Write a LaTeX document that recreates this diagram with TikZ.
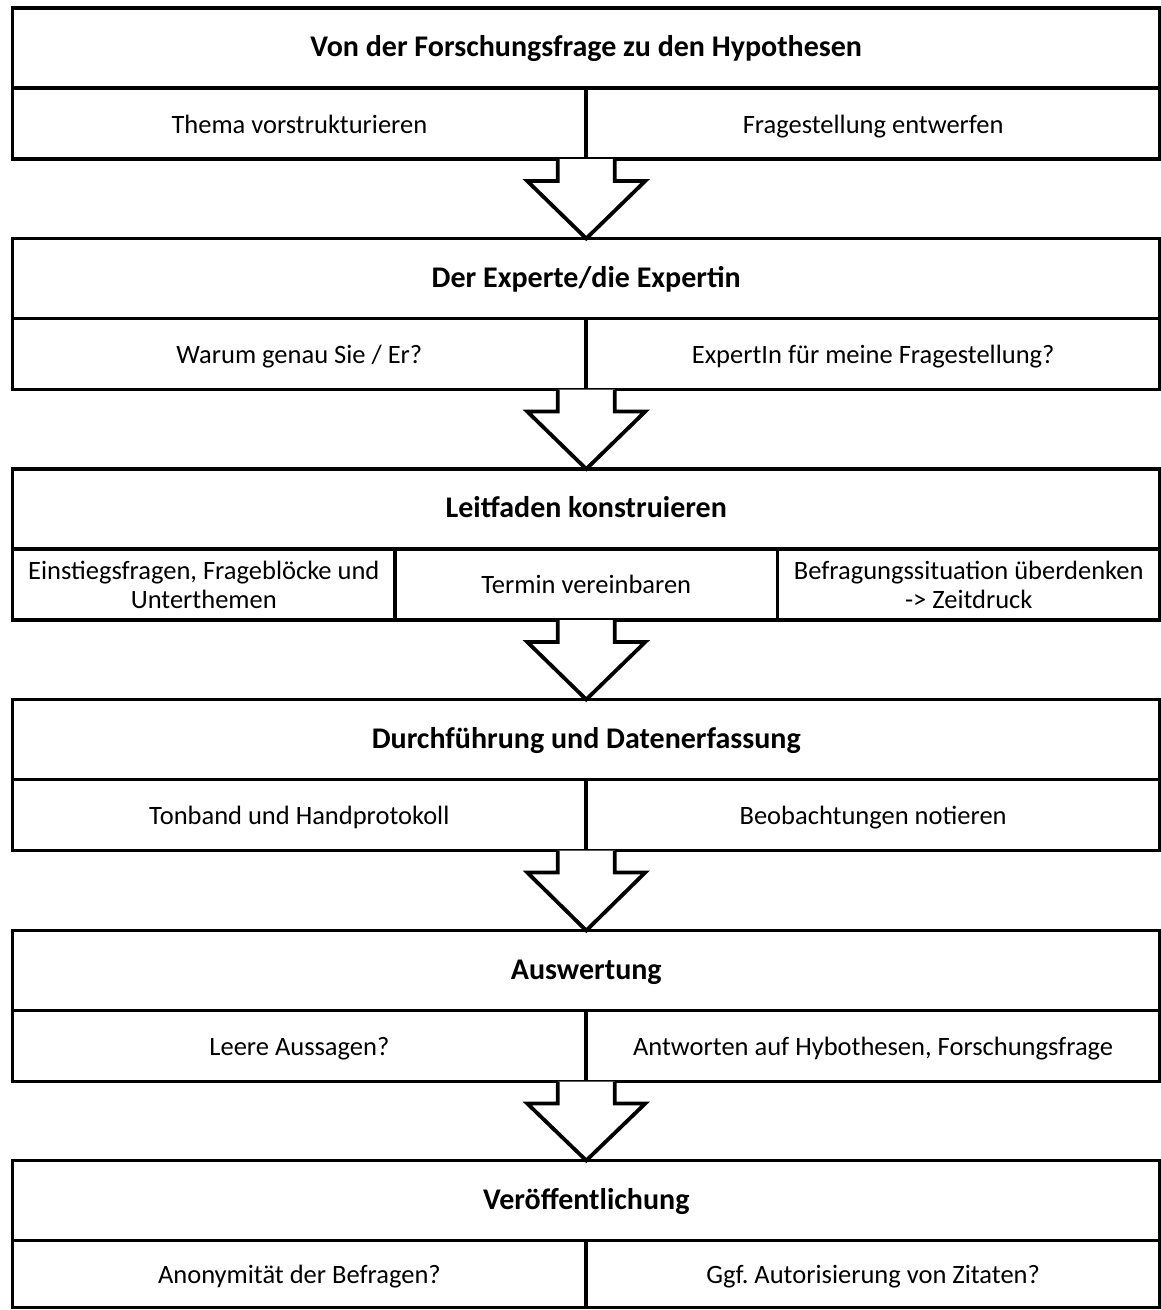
\documentclass[tikz,border=0pt]{standalone}
\usepackage{fontspec}
\setmainfont{Carlito}
\usetikzlibrary{calc}
\frenchspacing
\begin{document}
\begin{tikzpicture}[x=1pt,y=-1pt,
  cell/.style={draw=black, line width=3.8pt, outer sep=0pt, inner sep=2pt,
    align=center, anchor=north west, font=\fontsize{26.5}{29}\selectfont},
  head/.style={cell, font=\bfseries\fontsize{30}{33}\selectfont,
    text height=21pt, text depth=3.5pt,
    minimum width=1147.5pt, minimum height=80pt},
  half/.style={cell, text height=22pt, text depth=3pt,
    minimum width=573.75pt, minimum height=71pt},
  third/.style={cell, minimum width=382.5pt, minimum height=71pt},
  blockarrow/.style={draw=black, fill=white, line width=3.8pt, line join=miter}]

\useasboundingbox (0,0) rectangle (1161,1310);

% stage 1
\node[head]  (h1)  at (12.5,8)      {Von der Forschungsfrage zu den Hypothesen};
\node[half]  (s1a) at (12.5,88)     {Thema vorstrukturieren};
\node[half]  (s1b) at (586.25,88)   {Fragestellung entwerfen};

% stage 2
\node[head]  (h2)  at (12.5,238.5)  {Der Experte/die Expertin};
\node[half]  (s2a) at (12.5,318.5)  {Warum genau Sie / Er?};
\node[half]  (s2b) at (586.25,318.5){ExpertIn für meine Fragestellung?};

% stage 3
\node[head]  (h3)  at (12.5,469)    {Leitfaden konstruieren};
\node[third] (s3a) at (12.5,549)    {Einstiegsfragen, Frageblöcke und\\Unterthemen};
\node[third] (s3b) at (395,549)     {\rule{0pt}{21.5pt}Termin vereinbaren\rule[-3pt]{0pt}{3pt}};
\node[third] (s3c) at (777.5,549)   {Befragungssituation überdenken\\-> Zeitdruck};

% stage 4
\node[head]  (h4)  at (12.5,699.5)  {Durchführung und Datenerfassung};
\node[half]  (s4a) at (12.5,779.5)  {Tonband und Handprotokoll};
\node[half]  (s4b) at (586.25,779.5){Beobachtungen notieren};

% stage 5
\node[head]  (h5)  at (12.5,930.5)  {Auswertung};
\node[half]  (s5a) at (12.5,1010.5) {Leere Aussagen?};
\node[half]  (s5b) at (586.25,1010.5){Antworten auf Hybothesen, Forschungsfrage};

% stage 6
\node[head]  (h6)  at (12.5,1160.5) {Veröffentlichung};
\node[half, minimum height=67pt] (s6a) at (12.5,1240.5)  {Anonymität der Befragen?};
\node[half, minimum height=67pt] (s6b) at (586.25,1240.5){Ggf. Autorisierung von Zitaten?};

% hollow block arrows from the bottom of one stage to the head of the next
\newcommand\stagearrow[2]{%
  \draw[blockarrow] ($(#1)+(-28.5,0)$) -- ++(0,22) -- ++(-30.5,0) -- (#2.north)
    -- ($(#1)+(59,22)$) -- ++(-30.5,0) -- ($(#1)+(28.5,0)$);}
\stagearrow{s1a.south east}{h2}
\stagearrow{s2a.south east}{h3}
\stagearrow{s3b.south}{h4}
\stagearrow{s4a.south east}{h5}
\stagearrow{s5a.south east}{h6}

\end{tikzpicture}
\end{document}
